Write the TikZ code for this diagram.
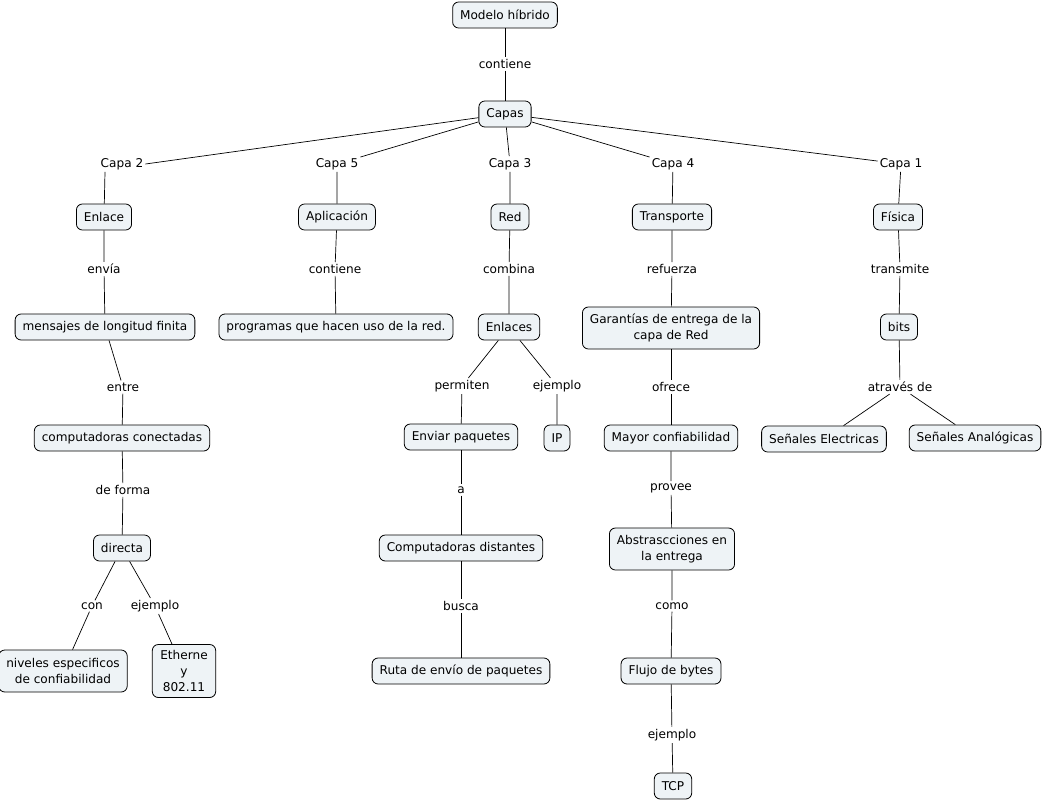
\documentclass[tikz,border=0pt]{standalone}
\usepackage{fontspec}
\setmainfont{DejaVu Sans}
\definecolor{boxfill}{HTML}{EEF3F6}
\begin{document}
\begin{tikzpicture}[x=1pt,y=-1pt,
  cbox/.style={draw=black, line width=0.8pt, rounded corners=6pt, fill=boxfill,
    inner xsep=7.5pt, inner ysep=3pt, minimum height=26pt, align=center,
    font=\fontsize{12.1}{16}\selectfont},
  lbl/.style={fill=white, inner sep=2pt, font=\fontsize{12.1}{16}\selectfont},
  conn/.style={draw=black, line width=0.7pt}]
\useasboundingbox (0,0) rectangle (1044,801);
% concepts
\node[cbox] (mh) at (505,15) {Modelo híbrido};
\node[cbox] (capas) at (505,114) {Capas};
\node[cbox] (enlace) at (104,217) {Enlace};
\node[cbox] (aplic) at (337,217) {Aplicación};
\node[cbox] (red) at (510,217) {Red};
\node[cbox] (transp) at (672,217) {Transporte};
\node[cbox] (fisica) at (898,217) {Física};
\node[cbox] (mensajes) at (105,327) {mensajes de longitud finita};
\node[cbox] (programas) at (336,327) {programas que hacen uso de la red.};
\node[cbox] (enlaces) at (509,327) {Enlaces};
\node[cbox, minimum height=42pt] (garant) at (671,328) {Garantías de entrega de la\\capa de Red};
\node[cbox] (bits) at (899,327) {bits};
\node[cbox] (compcon) at (122,438) {computadoras conectadas};
\node[cbox] (enviar) at (461,437) {Enviar paquetes};
\node[cbox] (ip) at (557,438) {IP};
\node[cbox] (mayor) at (671,438) {Mayor confiabilidad};
\node[cbox] (selec) at (824,439) {Señales Electricas};
\node[cbox] (sanal) at (975,438) {Señales Analógicas};
\node[cbox] (directa) at (122,548) {directa};
\node[cbox] (compdist) at (461,548) {Computadoras distantes};
\node[cbox, minimum height=42pt] (abstr) at (672,549) {Abstrascciones en\\la entrega};
\node[cbox, minimum height=42pt] (niveles) at (63,671) {niveles especificos\\de confiabilidad};
\node[cbox, minimum height=53pt, inner xsep=8pt] (ether) at (184,671) {Etherne\\y\\802.11};
\node[cbox] (ruta) at (461,671) {Ruta de envío de paquetes};
\node[cbox] (flujo) at (671,671) {Flujo de bytes};
\node[cbox] (tcp) at (673,786) {TCP};
% linking phrases
\node[lbl] (l1) at (505,64) {contiene};
\node[lbl] (c2) at (122,164) {Capa 2};
\node[lbl] (c5) at (337,164) {Capa 5};
\node[lbl] (c3) at (510,164) {Capa 3};
\node[lbl] (c4) at (673,164) {Capa 4};
\node[lbl] (c1) at (901,164) {Capa 1};
\node[lbl] (envia) at (104,269) {envía};
\node[lbl] (contiene2) at (335,269) {contiene};
\node[lbl] (combina) at (509,269) {combina};
\node[lbl] (refuerza) at (672,269) {refuerza};
\node[lbl] (transmite) at (900,269) {transmite};
\node[lbl] (entre) at (123,387) {entre};
\node[lbl] (permiten) at (462,386) {permiten};
\node[lbl] (ejemplo1) at (557,386) {ejemplo};
\node[lbl] (ofrece) at (671,387) {ofrece};
\node[lbl] (traves) at (900,387) {através de};
\node[lbl] (deforma) at (123,490) {de forma};
\node[lbl] (a) at (461,490) {a};
\node[lbl] (provee) at (671,488) {provee};
\node[lbl] (con) at (92,606) {con};
\node[lbl] (ejemplo2) at (155,606) {ejemplo};
\node[lbl] (busca) at (461,606) {busca};
\node[lbl] (como) at (672,606) {como};
\node[lbl] (ejemplo3) at (672,735) {ejemplo};
% connectors
\draw[conn] (mh) -- (l1) -- (capas);
\draw[conn] (capas) -- (c2.east);
\draw[conn] ([xshift=-17pt]c2.south) -- (enlace);
\draw[conn] (capas) -- (c5) -- (aplic);
\draw[conn] (capas) -- (c3) -- (red);
\draw[conn] (capas) -- (c4) -- (transp);
\draw[conn] (capas) -- (c1) -- (fisica);
\draw[conn] (enlace) -- (envia) -- (mensajes);
\draw[conn] (aplic) -- (contiene2) -- (programas);
\draw[conn] (red) -- (combina) -- (enlaces);
\draw[conn] (transp) -- (refuerza) -- (garant);
\draw[conn] (fisica) -- (transmite) -- (bits);
\draw[conn] (mensajes) -- (entre) -- (compcon);
\draw[conn] (enlaces) -- (permiten) -- (enviar);
\draw[conn] (enlaces) -- (ejemplo1) -- (ip);
\draw[conn] (garant) -- (ofrece) -- (mayor);
\draw[conn] (bits) -- (traves);
\draw[conn] (traves) -- (selec);
\draw[conn] (traves) -- (sanal);
\draw[conn] (compcon) -- (deforma) -- (directa);
\draw[conn] (enviar) -- (a) -- (compdist);
\draw[conn] (mayor) -- (provee) -- (abstr);
\draw[conn] (directa) -- (con) -- (niveles);
\draw[conn] (directa) -- (ejemplo2) -- (ether);
\draw[conn] (compdist) -- (busca) -- (ruta);
\draw[conn] (abstr) -- (como) -- (flujo);
\draw[conn] (flujo) -- (ejemplo3) -- (tcp);
\end{tikzpicture}
\end{document}
